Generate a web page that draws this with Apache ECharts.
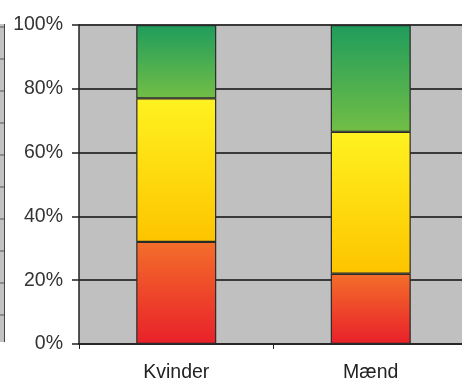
<!DOCTYPE html>
<html>
<head>
<meta charset="utf-8">
<style>
  html, body { margin: 0; padding: 0; background: #ffffff; overflow: hidden; }
  #chart { width: 470px; height: 383px; }
</style>
<script src="https://cdn.jsdelivr.net/npm/echarts@6/dist/echarts.min.js"></script>
</head>
<body>
<div id="chart"></div>
<script>
// Shares (percent of each group), stacked bottom to top
const categories = ['Kvinder', 'Mænd'];
const lowShare = [32, 22];
const midShare = [45, 44.5];
const highShare = [23, 33.5];
const yTicks = [0, 20, 40, 60, 80, 100];

function vGrad(bottom, top) {
  return new echarts.graphic.LinearGradient(0, 1, 0, 0, [
    { offset: 0, color: bottom },
    { offset: 1, color: top }
  ]);
}

const barStyle = (bottom, top) => ({
  color: vGrad(bottom, top),
  borderColor: '#2a2a2a',
  borderWidth: 1.2
});

const chart = echarts.init(document.getElementById('chart'), null, { renderer: 'canvas' });

// Neighbouring panel edge on the far left
const edgeTicks = [];
for (let i = 0; i < 10; i++) {
  edgeTicks.push({
    type: 'line',
    shape: { x1: 0, y1: 27 + i * 32, x2: 4, y2: 27 + i * 32 },
    style: { stroke: '#555', lineWidth: 1 }
  });
}

const labelFont = 'Liberation Sans, Arial, sans-serif';

chart.setOption({
  animation: false,
  backgroundColor: '#ffffff',
  graphic: [
    { type: 'rect', shape: { x: 0, y: 24, width: 4, height: 318 }, style: { fill: '#c2c2c2' } },
    { type: 'line', shape: { x1: 4.5, y1: 24, x2: 4.5, y2: 342 }, style: { stroke: '#444', lineWidth: 1 } }
  ].concat(edgeTicks),
  grid: {
    left: 79, top: 25, right: 2, bottom: 37,
    show: true,
    backgroundColor: '#c0c0c0',
    borderWidth: 0
  },
  xAxis: {
    type: 'category',
    data: categories,
    axisLine: { show: true, lineStyle: { color: '#222', width: 1.5 } },
    axisTick: { show: true, alignWithLabel: false, length: 5, lineStyle: { color: '#222' } },
    axisLabel: {
      margin: 19,
      color: '#222',
      fontFamily: labelFont,
      fontSize: 19.5
    }
  },
  yAxis: {
    type: 'value',
    min: 0, max: 100, interval: 20,
    axisLine: { show: true, lineStyle: { color: '#222', width: 1.5 } },
    axisTick: { show: true, length: 7, lineStyle: { color: '#222', width: 1.5 } },
    axisLabel: {
      margin: 16,
      color: '#333',
      fontFamily: labelFont,
      fontSize: 19.5,
      formatter: v => (yTicks.includes(v) ? v + '%' : '')
    },
    splitLine: { show: true, lineStyle: { color: '#3a3a3a', width: 2 } }
  },
  series: [
    {
      name: 'low', type: 'bar', stack: 'share', data: lowShare, barWidth: 80,
      itemStyle: barStyle('#e8202a', '#f46e2a')
    },
    {
      name: 'mid', type: 'bar', stack: 'share', data: midShare, barWidth: 80,
      itemStyle: barStyle('#fdc400', '#fff220')
    },
    {
      name: 'high', type: 'bar', stack: 'share', data: highShare, barWidth: 80,
      itemStyle: barStyle('#72be45', '#1f9c5c')
    }
  ]
});
</script>
</body>
</html>
